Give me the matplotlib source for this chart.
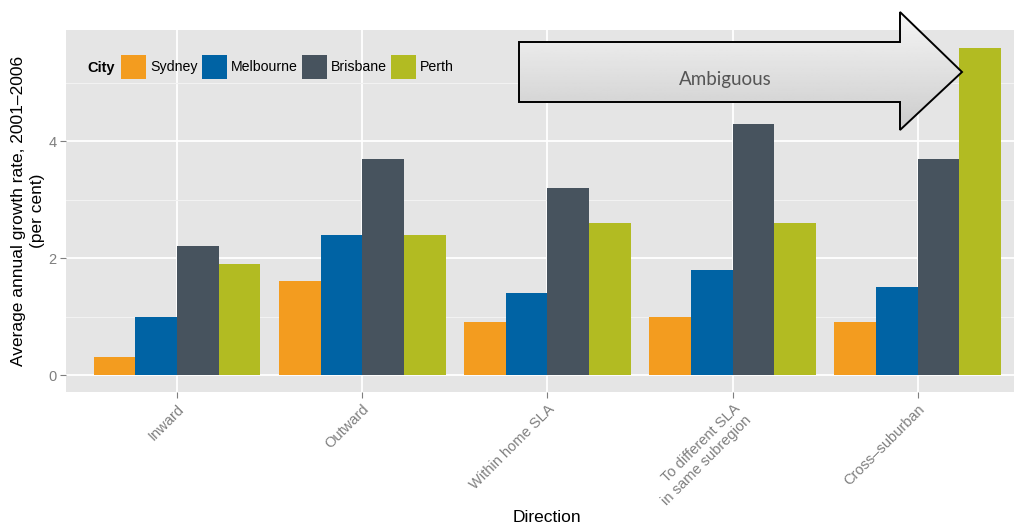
import numpy as np
import matplotlib
matplotlib.use("Agg")
import matplotlib.pyplot as plt
from matplotlib.patches import Polygon, Patch

plt.rcParams['font.family'] = ['Liberation Sans', 'DejaVu Sans']

# data
directions = ['Inward', 'Outward', 'Within home SLA',
              'To different SLA\nin same subregion', 'Cross\u2013suburban']
cities = ['Sydney', 'Melbourne', 'Brisbane', 'Perth']
sydney = [0.3, 1.6, 0.9, 1.0, 0.9]
melbourne = [1.0, 2.4, 1.4, 1.8, 1.5]
brisbane = [2.2, 3.7, 3.2, 4.3, 3.7]
perth = [1.9, 2.4, 2.6, 2.6, 5.6]
cols = ['#F39C1F', '#0063A4', '#47535E', '#B2BB22']

W, H = 1014, 525
fig = plt.figure(figsize=(W / 100, H / 100), dpi=100)
ax = fig.add_axes([66 / W, (H - 392) / H, (W - 66) / W, (392 - 30) / H])
ax.set_facecolor('#E5E5E5')
for s in ax.spines.values():
    s.set_visible(False)

x = np.arange(1, len(directions) + 1)
bw = 0.9 / 4
for i, (vals, c) in enumerate(zip([sydney, melbourne, brisbane, perth], cols)):
    ax.bar(x - 0.45 + bw * (i + 0.5), vals, width=bw, color=c, zorder=3)

ax.set_xlim(0.4, 5.52)
ax.set_ylim(-0.29, 5.9)
ax.set_yticks([0, 2, 4])
ax.set_yticks([1, 3, 5], minor=True)
ax.set_xticks(x)
ax.grid(which='major', color='white', lw=1.3, zorder=1)
ax.grid(which='minor', axis='y', color='#F2F2F2', lw=0.8, zorder=1)
ax.tick_params(which='minor', length=0)
ax.tick_params(which='major', length=4, color='#7F7F7F', labelcolor='#7F7F7F',
               labelsize=10.5, pad=3)
ax.set_xticklabels(directions, rotation=45, ha='right', va='top',
                   rotation_mode='anchor', multialignment='right')

ax.set_ylabel('Average annual growth rate, 2001\u20132006\n(per cent)', fontsize=12.5,
              linespacing=1.3)
ax.yaxis.set_label_coords(-(66 - 28) / (W - 66), 0.5)
ax.yaxis.label.set_va('center')
ax.set_xlabel('Direction', fontsize=12.5)
ax.xaxis.set_label_coords((547 - 66) / (W - 66), -(517 - 392) / (392 - 30))
ax.xaxis.label.set_va('center')

# legend inline with title
fig.text(87 / W, (H - 68) / H, 'City', fontsize=10.5, fontweight='bold',
         va='center', ha='left')
handles = [Patch(facecolor=c, edgecolor='none') for c in cols]
leg = ax.legend(handles, cities, ncol=4, frameon=False, fontsize=10.2,
                handlelength=1.75, handleheight=2.2, handletextpad=0.3,
                columnspacing=0.3, borderaxespad=0, borderpad=0,
                loc='center left', bbox_to_anchor=(121 / W, (H - 67) / H),
                bbox_transform=fig.transFigure)

# arrow annotation in pixel space
ov = fig.add_axes([0, 0, 1, 1], zorder=10)
ov.set_xlim(0, W)
ov.set_ylim(H, 0)
ov.axis('off')
pts = [(519, 42), (900, 42), (900, 12), (962, 72), (900, 130), (900, 102), (519, 102)]
arrow = Polygon(pts, closed=True, facecolor='none', edgecolor='black', lw=1.4, zorder=3)
ov.add_patch(arrow)
grad = np.linspace(0.96, 0.80, 100).reshape(-1, 1)
im = ov.imshow(grad, cmap='gray', vmin=0, vmax=1, extent=(519, 962, 130, 12),
               aspect='auto', zorder=2)
clip = Polygon(pts, closed=True, transform=ov.transData)
im.set_clip_path(clip)
ov.set_xlim(0, W)
ov.set_ylim(H, 0)
ov.text(725, 80, 'Ambiguous', family=['Lato', 'DejaVu Sans'], fontsize=13.5,
        color='#555555', ha='center', va='center', zorder=4)

fig.savefig('out.png', dpi=100)
